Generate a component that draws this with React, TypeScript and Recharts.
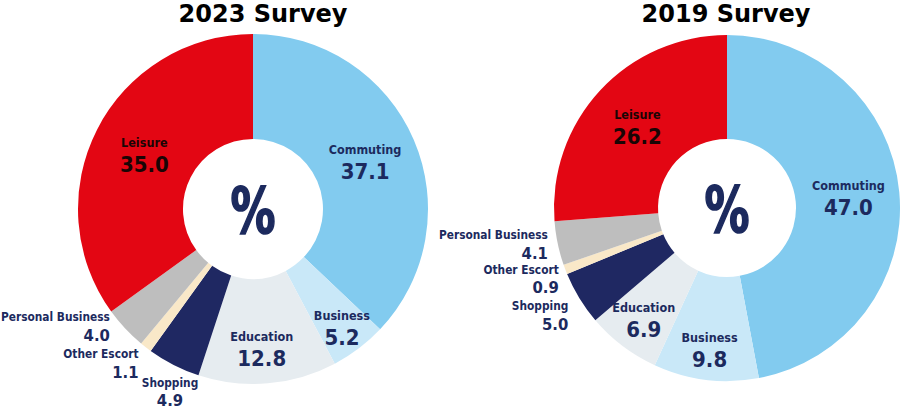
import React from 'react';
import { PieChart, Pie, Cell } from 'recharts';

const categories = ['Commuting', 'Business', 'Education', 'Shopping', 'Other Escort', 'Personal Business', 'Leisure'];
const values2023 = [37.1, 5.2, 12.8, 4.9, 1.1, 4.0, 35.0];
const values2019 = [47.0, 9.8, 6.9, 5.0, 0.9, 4.1, 26.2];
const colors = ['#82CBEF', '#C9E8F8', '#E6ECF0', '#1F2862', '#F9E8C8', '#BEBEBE', '#E30613'];

const NAVY = '#1C2A5E';
const FONT = '"DejaVu Sans", sans-serif';

// donut geometry
const LEFT = { cx: 253, cy: 209, inner: 70, outer: 175 };
const RIGHT = { cx: 727, cy: 208, inner: 69, outer: 173 };

// label placement per slice: radius from centre, anchor, nudges
type Place = { r: number; anchor: 'start' | 'middle' | 'end'; inside: boolean; dx?: number; dy?: number };

const place2023: Place[] = [
  { r: 122, anchor: 'middle', inside: true },
  { r: 147, anchor: 'middle', inside: true },
  { r: 139, anchor: 'middle', inside: true, dx: -3 },
  { r: 205, anchor: 'middle', inside: false, dx: 10 },
  { r: 195, anchor: 'end', inside: false, dx: 5 },
  { r: 185, anchor: 'end', inside: false, dx: -8, dy: -9 },
  { r: 122, anchor: 'middle', inside: true },
];

const place2019: Place[] = [
  { r: 122, anchor: 'middle', inside: true },
  { r: 142, anchor: 'middle', inside: true },
  { r: 138, anchor: 'middle', inside: true },
  { r: 186, anchor: 'end', inside: false, dy: 10 },
  { r: 180, anchor: 'end', inside: false, dy: 7 },
  { r: 183, anchor: 'end', inside: false, dy: -1 },
  { r: 122, anchor: 'middle', inside: true },
];

const toRows = (vals: number[]) => categories.map((name, i) => ({ name, value: vals[i] }));

const makeLabel = (places: Place[]) => (props: any) => {
  const { cx, cy, midAngle, index, value } = props;
  const p = places[index];
  const rad = (-midAngle * Math.PI) / 180;
  const x = cx + p.r * Math.cos(rad) + (p.dx || 0);
  const y = cy + p.r * Math.sin(rad) + (p.dy || 0);
  const name = categories[index];
  const color = name === 'Leisure' ? '#1A0505' : NAVY;
  return (
    <g>
      <text
        x={x}
        y={y - (p.inside ? 11 : 9)}
        textAnchor={p.anchor}
        dominantBaseline="central"
        fill={color}
        fontSize={p.inside ? 12.5 : 11.8}
        fontWeight="bold"
        fontStretch="condensed"
      >
        {name}
      </text>
      <text
        x={x}
        y={y + (p.inside ? 11 : 9)}
        textAnchor={p.anchor}
        dominantBaseline="central"
        fill={color}
        fontSize={p.inside ? 22 : 16.5}
        fontWeight="bold"
        fontStretch="condensed"
      >
        {Number(value).toFixed(1)}
      </text>
    </g>
  );
};

const Percent = ({ cx, cy }: { cx: number; cy: number }) => (
  <text
    transform={`translate(${cx}, ${cy + 24}) scale(0.78, 1)`}
    x={0}
    y={0}
    textAnchor="middle"
    fill={NAVY}
    stroke={NAVY}
    strokeWidth={1.6}
    fontSize={64}
    fontWeight="bold"
    fontStretch="condensed"
  >
    %
  </text>
);

const App = () => {
  return (
    <div style={{ position: 'absolute', left: 0, top: 0, width: 900, height: 408, background: '#fff', fontFamily: FONT }}>
      <PieChart width={900} height={408} margin={{ top: 0, right: 0, bottom: 0, left: 0 }}>
        <text x={263} y={22} textAnchor="middle" fontSize={24} fontWeight="bold" fill="#000">
          2023 Survey
        </text>
        <text x={726} y={22} textAnchor="middle" fontSize={24} fontWeight="bold" fill="#000">
          2019 Survey
        </text>
        <Pie
          data={toRows(values2023)}
          dataKey="value"
          nameKey="name"
          cx={LEFT.cx}
          cy={LEFT.cy}
          innerRadius={LEFT.inner}
          outerRadius={LEFT.outer}
          startAngle={90}
          endAngle={-270}
          stroke="none"
          labelLine={false}
          label={makeLabel(place2023)}
          isAnimationActive={false}
        >
          {values2023.map((_, i) => (
            <Cell key={i} fill={colors[i]} />
          ))}
        </Pie>
        <Pie
          data={toRows(values2019)}
          dataKey="value"
          nameKey="name"
          cx={RIGHT.cx}
          cy={RIGHT.cy}
          innerRadius={RIGHT.inner}
          outerRadius={RIGHT.outer}
          startAngle={90}
          endAngle={-270}
          stroke="none"
          labelLine={false}
          label={makeLabel(place2019)}
          isAnimationActive={false}
        >
          {values2019.map((_, i) => (
            <Cell key={i} fill={colors[i]} />
          ))}
        </Pie>
        <Percent cx={LEFT.cx} cy={LEFT.cy} />
        <Percent cx={RIGHT.cx} cy={RIGHT.cy} />
      </PieChart>
    </div>
  );
};

export default App;
